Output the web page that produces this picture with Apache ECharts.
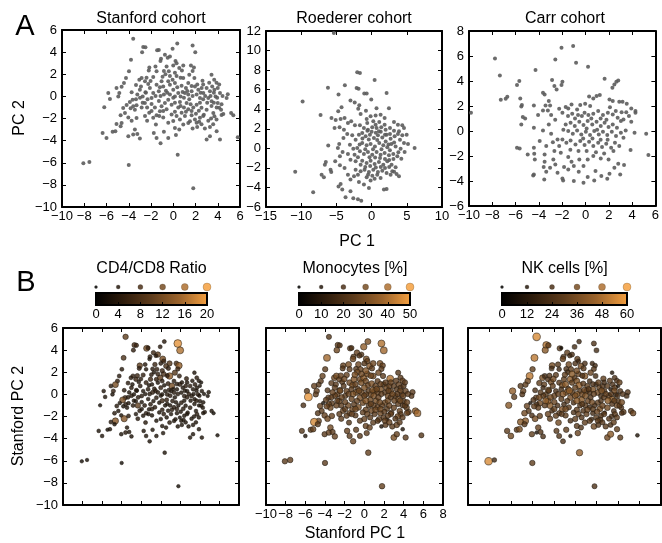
<!DOCTYPE html>
<html>
<head>
<meta charset="utf-8">
<script src="https://cdn.jsdelivr.net/npm/echarts@6/dist/echarts.min.js"></script>
<style>
html, body { margin: 0; padding: 0; background: #fff; }
#chart { width: 662px; height: 543px; }
</style>
</head>
<body>
<div id="chart"></div>
<script>
// Stanford cohort: [PC1, PC2, CD4/CD8 ratio, monocytes %, NK cells %]
var stanford = [
  [-3.6, 5.2, 10, 22, 55], [0.36, 4.77, 4, 30, 20], [1.74, 4.6, 19, 40, 25], [1.98, 3.98, 16, 38, 22],
  [-2.7, 4.46, 8, 25, 48], [-2.5, 4.43, 6, 22, 30], [-2.8, 4.0, 5, 28, 40], [-1.45, 4.16, 12, 24, 28],
  [-1.3, 4.2, 5, 20, 6], [-0.06, 4.3, 4, 35, 22], [-0.75, 3.77, 6, 26, 30], [-0.3, 3.6, 10, 22, 25],
  [-0.5, 3.5, 4, 20, 20], [-3.8, 3.3, 8, 38, 50], [-1.1, 3.4, 5, 24, 26], [-1.15, 3.2, 3, 28, 32],
  [0.2, 3.2, 12, 30, 30], [0.3, 3.0, 6, 26, 18], [0, 2.8, 4, 22, 24], [-3.98, 2.27, 4, 24, 30],
  [-2.15, 2.6, 10, 26, 36], [-2.2, 2.35, 5, 22, 22], [-1.6, 2.7, 4, 30, 28], [-1.5, 2.27, 3, 24, 20],
  [-0.6, 2.7, 6, 28, 34], [-0.84, 2.3, 4, 22, 24], [-0.4, 2.27, 5, 26, 30], [-0.7, 2.0, 3, 30, 22],
  [0.54, 2.56, 8, 32, 36], [0.78, 2.35, 5, 24, 28], [0.9, 2.8, 9, 28, 24], [1.59, 2.8, 7, 30, 18],
  [1.86, 2.6, 14, 26, 20], [1.74, 2.3, 6, 24, 26], [1.44, 1.96, 9, 28, 32], [0.9, 1.66, 14, 30, 40],
  [1.9, 1.66, 5, 24, 22], [3.44, 1.96, 3, 22, 10], [3.68, 1.5, 4, 24, 24], [2.63, 1.42, 5, 40, 30],
  [-4.25, 1.66, 4, 26, 50], [-4.43, 1.2, 5, 24, 34], [-4.64, 0.88, 12, 22, 30], [-5.1, 0.76, 4, 26, 28],
  [-5.84, 0.3, 3, 24, 42], [-5.69, -0.23, 3, 48, 30], [-6.2, -0.99, 2, 20, 40], [-4.85, 0.3, 5, 26, 32],
  [-4.94, 0, 3, 24, 26], [-3.74, 0.37, 4, 22, 24], [-3.65, -0.3, 6, 26, 30], [-3.05, 1.5, 4, 28, 36],
  [-2.84, 1.66, 5, 30, 22], [-2.9, 0.9, 3, 24, 30], [-2.54, 1.36, 6, 26, 26], [-2.25, 1.12, 3, 22, 34],
  [-3.0, 0.6, 4, 24, 20], [-2.75, 0, 3, 26, 28], [-2.5, 0.37, 5, 28, 40], [-2.1, 0.76, 4, 22, 30],
  [-1.8, 0.3, 3, 26, 24], [-1.95, -0.14, 4, 24, 32], [-1.5, 1.06, 5, 28, 26], [-1.2, 0.82, 3, 30, 36],
  [-1.3, 0.46, 4, 24, 22], [-1.05, 1.36, 6, 32, 30], [-0.9, 0.9, 3, 26, 40], [-0.66, 0.5, 4, 24, 28],
  [-0.45, 1.36, 5, 28, 42], [-0.3, 1.06, 3, 30, 30], [-0.06, 1.5, 10, 34, 26], [0.15, 1.2, 4, 28, 36],
  [0.36, 0.82, 3, 26, 44], [0, 0.6, 5, 30, 30], [0.45, 0.3, 3, 24, 26], [0.66, 0, 4, 28, 34],
  [0.15, 0, 3, 26, 40], [0.75, 0.97, 5, 30, 28], [1.14, 0.76, 12, 26, 30], [1.35, 1.2, 4, 24, 22],
  [1.05, 0.3, 3, 28, 32], [1.35, 0.16, 4, 26, 24], [1.65, 0.46, 3, 30, 36], [1.95, 0.9, 5, 24, 20],
  [2.25, 0.6, 3, 28, 30], [2.55, 0.76, 4, 26, 26], [2.1, 0.16, 3, 24, 34], [2.4, -0.14, 4, 28, 22],
  [2.7, 0.3, 3, 26, 30], [3.0, 0.76, 4, 24, 28], [3.3, 0.46, 3, 22, 10], [3.5, 0.9, 4, 26, 24],
  [3.7, 0.6, 3, 24, 30], [4.0, 0.76, 2, 22, 8], [4.2, 0.3, 3, 26, 26], [3.15, -0.14, 4, 24, 32],
  [3.45, -0.44, 3, 28, 40], [3.8, 0, 4, 26, 22], [4.0, -0.6, 3, 24, 28], [3.9, -1.0, 2, 22, 34],
  [4.3, -1.2, 3, 26, 24], [4.9, 0.2, 3, 24, 26], [4.8, -0.14, 2, 22, 22], [4.5, -1.6, 3, 26, 30],
  [5.2, -1.5, 3, 34, 28], [5.4, -1.7, 2, 38, 32], [5.8, -3.7, 2, 22, 10], [3.6, -1.5, 3, 26, 24],
  [3.7, -1.8, 4, 24, 30], [3.4, -2.0, 3, 28, 22], [3.0, -1.2, 4, 26, 34], [2.75, -1.65, 3, 24, 8],
  [3.15, -2.2, 3, 22, 26], [2.1, -0.75, 4, 28, 30], [1.8, -1.0, 3, 26, 24], [2.3, -1.3, 4, 24, 36],
  [1.65, -1.7, 3, 28, 22], [1.95, -2.1, 2, 24, 28], [1.5, -2.25, 3, 26, 20], [1.2, -0.6, 4, 30, 32],
  [0.96, -1.0, 3, 26, 28], [0.6, -0.5, 5, 28, 40], [0.45, -1.0, 3, 24, 26], [0.15, -1.4, 4, 26, 30],
  [-0.15, -0.75, 3, 28, 24], [-0.45, -0.3, 4, 30, 34], [-0.75, -0.6, 3, 26, 28], [-1.05, -0.9, 4, 24, 22],
  [-1.2, -1.35, 3, 28, 38], [-1.5, -1.7, 4, 26, 26], [-0.9, -1.9, 3, 24, 30], [-1.65, -1.0, 4, 28, 24],
  [-1.95, -0.7, 3, 26, 32], [-2.35, -1.0, 10, 24, 40], [-2.55, -0.6, 3, 28, 42], [-2.84, -1.0, 4, 26, 28],
  [-3.3, -0.8, 3, 24, 34], [-3.6, -0.9, 4, 26, 22], [-3.45, -1.2, 3, 28, 30], [-3.9, -0.5, 12, 24, 26],
  [-4.5, -1.05, 4, 26, 32], [-4.34, -1.5, 3, 24, 28], [-4.73, -1.7, 4, 22, 34], [-4.04, -1.9, 3, 26, 24],
  [-3.74, -2.2, 13, 28, 36], [-4.64, -2.4, 13, 26, 40], [-5.1, -2.5, 4, 45, 40], [-4.73, -2.7, 3, 24, 28],
  [-3.3, -1.95, 4, 26, 30], [-6.35, -3.3, 3, 22, 30], [-6.0, -3.76, 3, 8, 34], [-5.45, -3.2, 2, 24, 28],
  [-5.2, -3.15, 3, 26, 36], [-4.04, -3.6, 3, 24, 30], [-3.6, -3.45, 4, 26, 8], [-3.45, -3.0, 3, 28, 32],
  [-3.23, -3.4, 3, 24, 26], [-3.0, -3.8, 3, 26, 24], [-2.35, -2.2, 4, 24, 30], [-1.75, -3.3, 3, 26, 28],
  [-1.5, -3.76, 3, 24, 26], [-1.56, -2.55, 4, 22, 34], [-1.14, -4.24, 3, 26, 24], [-0.84, -3.2, 3, 24, 30],
  [-0.45, -3.76, 3, 22, 8], [0.15, -2.86, 3, 26, 28], [0.24, -3.5, 3, 24, 32], [0.54, -3.0, 3, 26, 26],
  [0.9, -2.55, 4, 24, 30], [1.35, -2.4, 3, 22, 28], [1.74, -2.9, 3, 8, 34], [2.15, -2.76, 3, 24, 26],
  [2.33, -2.3, 3, 6, 30], [2.84, -2.9, 3, 24, 28], [3.3, -2.76, 3, 26, 24], [3.0, -3.9, 3, 30, 34],
  [3.3, -3.6, 3, 26, 40], [4.2, -3.9, 3, 24, 28], [3.9, -3.15, 3, 8, 30], [0.4, -5.27, 3, 26, 42],
  [-8.08, -6.05, 2, 24, 55], [-7.54, -5.93, 2, 26, 20], [-4.0, -6.2, 2, 24, 30], [1.8, -8.3, 2, 26, 25],
  [-0.3, 0.18, 4, 28, 30], [0, -0.12, 3, 26, 36], [-0.6, -1.17, 4, 30, 28], [-0.15, -1.63, 3, 24, 24],
  [0.3, -1.78, 4, 26, 32], [0.75, -1.48, 3, 28, 26], [1.05, -1.78, 3, 24, 30], [1.35, -1.17, 4, 26, 22],
  [1.56, -0.72, 3, 28, 34], [0.15, -0.57, 6, 32, 40], [0.66, -0.87, 3, 26, 28], [0.96, -0.12, 4, 30, 36],
  [1.44, -0.27, 3, 26, 26], [1.74, 0.03, 4, 24, 30], [2.4, -0.57, 3, 28, 24], [2.54, -1.02, 3, 26, 32],
  [2.69, -0.27, 4, 24, 28], [3.05, -0.57, 3, 26, 40], [3.44, -0.87, 3, 24, 26], [3.65, -0.57, 4, 28, 30],
  [3.95, -0.12, 3, 26, 22], [4.13, -1.02, 3, 24, 28], [4.34, -0.72, 3, 26, 34], [4.43, 0.03, 2, 24, 26],
  [2.69, -1.78, 3, 26, 30], [2.4, -1.93, 3, 24, 24], [2.1, -2.38, 3, 26, 28], [1.14, -1.39, 4, 28, 32],
  [0.6, -2.08, 3, 24, 26], [0, -2.23, 3, 26, 30], [-0.45, -2.38, 3, 24, 24], [-0.9, -1.33, 4, 28, 34],
  [-1.26, -1.78, 3, 26, 28], [-1.8, -1.93, 3, 24, 30], [-2.16, -1.48, 4, 26, 24], [-2.54, -1.78, 3, 24, 32],
  [-0.84, 0.18, 5, 30, 36], [-0.54, 0.33, 4, 28, 42], [-1.59, 0.03, 3, 26, 30], [-1.14, 0.03, 4, 30, 38],
  [-1.29, -0.42, 3, 26, 28], [-1.95, -1.33, 3, 24, 30], [-2.31, -0.27, 4, 26, 34], [-2.46, 0.33, 3, 28, 26],
  [-2.99, -0.12, 4, 26, 30], [-2.75, -0.57, 3, 24, 40], [0.84, 0.39, 4, 30, 32], [1.26, 0.48, 3, 28, 28],
  [1.65, 0.93, 4, 26, 24], [2.16, 1.08, 3, 24, 30], [2.69, 1.08, 3, 26, 22], [3.23, 1.23, 3, 24, 28],
  [3.89, 1.23, 3, 26, 24], [4.13, 1.08, 2, 24, 30], [3.65, 0.33, 3, 26, 34], [3.35, 0.03, 3, 24, 26],
  [2.87, 0.03, 4, 28, 30], [2.46, 0.33, 3, 26, 36], [0.3, 1.84, 8, 30, 32], [0.66, 1.69, 5, 28, 26],
  [0.15, 2.14, 6, 32, 34], [-0.3, 1.84, 5, 28, 40], [-0.96, 1.78, 4, 30, 30], [-1.8, 1.75, 5, 26, 28],
  [-2.04, 1.39, 4, 28, 34], [-2.4, 1.69, 6, 26, 26], [-3.35, 1.02, 4, 24, 30], [-3.23, 0.18, 3, 26, 28],
  [-3.35, -0.27, 4, 24, 34], [-3.83, -1.08, 3, 26, 30], [-4.19, -0.78, 3, 5, 6], [3.89, -2.08, 3, 24, 28],
  [4.34, -1.69, 3, 26, 24], [3.59, -2.53, 3, 24, 30], [2.54, -2.53, 3, 26, 26], [2.04, -1.57, 3, 24, 32],
  [1.65, -1.33, 4, 28, 28]
];

// Roederer cohort: [PC1, PC2]
var roederer = [
  [-5.36, 11.8], [-2.04, 7.77], [-1.66, 7.7], [0.43, 6.98], [-3.8, 6.44], [-6.2, 6.2], [-2.13, 6.17],
  [-1.85, 6.1], [-9.8, 4.8], [-4.7, 5.5], [-1.04, 5.6], [-0.7, 5.6], [2.13, 5.66], [-7.25, 3.4],
  [-3.0, 4.9], [-2.4, 4.7], [-1.75, 4.4], [-1.9, 4.05], [-4.27, 4.2], [-4.74, 3.8], [-5.7, 3.1],
  [-5.1, 2.9], [-4.4, 3.0], [-3.84, 3.1], [-0.05, 5.0], [0.7, 4.1], [2.46, 4.1], [-0.8, 3.85],
  [-1.56, 3.5], [-0.7, 3.0], [-0.14, 3.27], [0.57, 3.37], [1.28, 3.44], [1.85, 3.1], [1.09, 2.7],
  [0.24, 2.76], [-3.36, 2.6], [-2.9, 2.76], [-2.37, 2.35], [-1.66, 2.35], [-5.26, 2.08], [-4.55, 2.15],
  [-3.93, 1.9], [3.18, 2.7], [3.74, 2.42], [4.36, 2.35], [3.89, 1.74], [4.6, 2.08], [-6.16, 0.3],
  [-10.85, -2.4], [-8.3, -4.5], [-7.1, -2.7], [-6.78, -2.96], [-6.5, -1.4], [-6.64, -1.67], [-5.83, -2.18],
  [-5.73, -2.42], [-4.6, 0.44], [-4.79, 0.03], [-4.12, -0.37], [-4.5, -0.82], [-5.17, -1.33], [-4.5, -1.74],
  [-3.84, -2.0], [-3.36, -2.7], [-4.4, -3.64], [-4.7, -3.9], [-4.17, -4.2], [-3.7, -5.0], [-3.0, -4.4],
  [-2.6, -5.1], [-1.94, -5.2], [-1.47, -5.35], [-4.0, 1.06], [-3.46, 1.47], [-2.75, 1.33], [-2.27, 0.89],
  [-1.8, 1.4], [-1.33, 1.57], [-3.08, 0.37], [-2.6, -0.03], [-3.36, -0.58], [-3.0, -1.16], [-2.27, -1.33],
  [-1.56, -1.67], [-2.27, -2.18], [-3.0, -3.2], [-2.5, -2.86], [-1.8, -3.44], [-1.09, -3.71], [-0.38, -4.05],
  [-0.7, -2.96], [-0.14, -3.3], [0.43, -3.1], [0.8, -2.7], [1.28, -3.03], [1.75, -4.2], [2.13, -4.16],
  [3.89, -2.86], [3.55, -2.62], [2.94, -2.35], [-1.09, 2.08], [-0.52, 1.91], [0.09, 2.15], [0.71, 2.08],
  [1.37, 2.15], [1.99, 1.91], [2.61, 2.08], [3.18, 1.81], [3.74, 1.47], [4.36, 1.33], [4.98, 1.4],
  [-0.85, 1.23], [-0.24, 1.4], [0.33, 1.06], [0.9, 1.33], [1.52, 1.12], [2.13, 1.4], [2.7, 0.99],
  [3.27, 1.23], [4.03, 0.89], [4.6, 0.55], [5.17, 0.44], [6.11, 0.03], [-1.33, 0.55], [-0.71, 0.31],
  [-0.14, 0.44], [0.47, 0.2], [1.09, 0.55], [1.66, 0.31], [2.23, 0.1], [2.8, 0.44], [3.41, 0.2],
  [4.12, -0.03], [4.69, -0.37], [-1.66, -0.31], [-1.09, -0.58], [-0.52, -0.37], [0.09, -0.65], [0.71, -0.37],
  [1.28, -0.65], [1.85, -0.48], [2.46, -0.72], [3.08, -0.58], [3.65, -0.82], [4.22, -1.06], [-1.33, -1.26],
  [-0.71, -1.5], [-0.14, -1.26], [0.43, -1.6], [1.04, -1.4], [1.66, -1.67], [2.23, -1.33], [2.84, -1.67],
  [3.41, -1.94], [-1.0, -2.18], [-0.38, -2.42], [0.24, -2.18], [0.9, -2.42], [1.52, -2.28], [2.13, -2.52],
  [2.7, -2.69], [-1.94, -2.69], [-1.56, -2.35], [-2.04, 0.03], [-2.42, -0.65], [-1.94, -0.92], [-0.62, 2.59],
  [0.57, 2.42], [1.85, 2.42], [1.04, 1.74], [2.61, 1.47],
  [-0.4, 0.9], [0.2, -0.1], [0.8, 0.85], [1.4, -0.1], [2.0, 0.7], [2.6, -0.2], [3.2, 0.6], [3.8, -0.4],
  [-0.9, -0.1], [-0.3, -0.9], [0.5, -0.95], [1.2, -1.0], [1.9, -1.1], [2.5, -1.2], [3.1, -1.1], [0.0, 1.7],
  [0.6, 1.6], [1.3, 1.7], [1.9, 1.4], [2.4, 0.4], [-0.6, 1.8], [-1.3, 1.0], [-1.7, 0.4], [-0.9, -1.9],
  [-0.2, -1.8], [0.6, -1.95], [1.3, -1.9], [1.9, -2.0], [2.5, -1.9], [3.2, -2.4], [0.1, -2.8], [-0.5, -2.7]
];

// Carr cohort: [PC1, PC2]
var carr = [
  [-1.06, 6.8], [-2.06, 6.67], [-7.77, 5.81], [-2.59, 5.73], [-0.81, 5.47], [0.22, 5.15], [-7.35, 4.45],
  [-4.29, 4.88], [1.64, 4.19], [2.81, 4.05], [2.65, 3.95], [2.48, 3.73], [2.31, 3.47], [-5.68, 4.0],
  [-5.88, 3.68], [-2.87, 4.08], [-2.67, 3.6], [-1.98, 3.95], [-2.06, 3.68], [-2.48, 3.33], [-7.27, 2.5],
  [-6.85, 2.59], [-6.71, 2.75], [-5.6, 2.61], [-5.46, 2.08], [-5.51, 1.97], [-4.43, 2.05], [-4.07, 1.28],
  [-5.38, 1.12], [-5.18, 1.01], [-5.51, 0.53], [-4.43, 0.27], [-9.83, 1.47], [-3.65, 3.07], [-3.51, 2.93],
  [-3.15, 2.4], [-3.04, 2.05], [-3.43, 2.05], [-3.23, 1.65], [-2.26, 1.79], [-1.7, 1.92], [-1.48, 1.81],
  [-1.2, 2.13], [-0.72, 1.73], [-0.45, 2.08], [-0.03, 2.19], [0.31, 2.77], [0.67, 2.61], [0.95, 2.8],
  [1.23, 2.88], [2.06, 2.53], [2.34, 2.4], [2.9, 2.35], [3.18, 2.35], [3.54, 2.19], [3.93, 1.81],
  [4.29, 1.6], [4.29, 1.47], [3.73, 1.2], [3.93, 0.75], [3.26, 0.93], [4.21, -0.13], [5.21, -0.21],
  [5.4, -1.92], [3.87, -1.52], [3.26, -0.53], [3.45, 0.05], [-3.65, 1.65], [-2.95, 1.28], [-1.98, 1.47],
  [-1.5, 1.2], [-1.14, 1.39], [-0.64, 1.28], [-0.31, 1.2], [-0.08, 1.47], [0.25, 1.28], [0.67, 1.39],
  [1.09, 1.6], [1.5, 1.28], [1.92, 1.47], [2.34, 1.33], [2.76, 1.07], [3.04, 0.8], [-1.7, 0.53],
  [-1.28, 0.67], [-0.92, 0.4], [-0.53, 0.75], [-0.17, 0.48], [0.19, 0.8], [0.58, 0.53], [0.95, 0.75],
  [1.31, 0.4], [1.64, 0.67], [1.98, 0.32], [2.34, 0.53], [2.7, 0.27], [-1.48, 0], [-1.09, -0.21],
  [-0.72, 0.05], [-0.36, -0.27], [0.03, -0.05], [0.39, -0.32], [0.75, 0], [1.14, -0.27], [1.5, -0.05],
  [1.87, -0.32], [2.26, -0.05], [2.62, -0.4], [3.04, -0.13], [-1.98, -0.67], [-1.64, -0.93], [-1.28, -0.75],
  [-0.86, -1.07], [-0.45, -0.8], [-0.08, -1.12], [0.31, -0.85], [0.67, -1.2], [1.09, -0.93], [1.42, -1.28],
  [1.78, -1.01], [2.2, -1.33], [2.53, -0.93], [2.9, -1.2], [-3.15, 0.53], [-2.95, -0.21], [-3.65, 0.05],
  [-3.93, -0.8], [-3.37, -1.2], [-3.51, -1.87], [-4.43, -1.33], [-4.96, -1.87], [-5.88, -1.33], [-5.65, -1.39],
  [-4.4, -1.81], [-4.35, -2.27], [-2.4, -0.67], [-2.26, -1.2], [-2.67, -1.6], [-2.12, -1.73], [-3.51, -2.45],
  [-3.59, -2.88], [-3.37, -3.25], [-3.54, -3.87], [-4.43, -3.47], [-4.49, -3.55], [-2.59, -2.67], [-2.4, -3.33],
  [-1.98, -3.79], [-1.92, -3.95], [-1.48, -2.08], [-1.2, -2.45], [-1.0, -2.8], [-0.58, -3.25], [-1.0, -4.0],
  [-0.17, -4.13], [0.19, -3.68], [0.75, -3.95], [0.86, -3.2], [1.36, -3.6], [1.87, -3.81], [2.06, -3.41],
  [2.48, -2.93], [2.81, -2.61], [3.31, -2.72], [2.98, -3.47], [1.98, -2.27], [1.31, -2.19], [0.67, -2.0],
  [0.19, -2.27], [-0.17, -2.8], [-0.53, -2.27], [-1.84, -2.88], [-1.48, -3.07], [-2.76, -2.27], [-3.04, -2.93],
  [0.1, 0.2], [0.5, 1.0], [1.0, 0.1], [1.3, 1.0], [1.8, 0.9], [2.1, 1.9], [2.6, 1.6], [3.1, 1.5],
  [3.5, 1.5], [0.4, 2.0], [-0.9, 1.0], [-0.2, -0.6], [0.6, -0.6], [1.3, -0.7], [1.9, -0.7], [2.4, -1.6],
  [-1.3, -1.5], [-0.6, -1.6], [0.1, -1.6], [0.9, -1.7], [1.6, -1.8], [-2.6, 0.9], [-1.9, 0.1], [-2.8, -0.9]
];

// colour bar scales and their size-legend values
var ratioLegend = [0, 4, 8, 12, 16, 20];
var monoLegend = [0, 10, 20, 30, 40, 50];
var nkLegend = [0, 12, 24, 36, 48, 60];

var FONT = '"Liberation Sans", Arial, Helvetica, sans-serif';
var CMAP = ['#000000', '#2e1c0c', '#5e3c1c', '#9c642c', '#f5a040'];

function minus(v) { return String(v).replace('-', '\u2212'); }

var chart = echarts.init(document.getElementById('chart'), null, { renderer: 'canvas' });

var grids = [], xAxes = [], yAxes = [], series = [], visualMaps = [];

function frameAxis(gi, pos, r, showLabel, isX) {
  return {
    type: 'value', gridIndex: gi, position: pos, min: r[0], max: r[1], interval: r[2],
    axisLine: { show: true, onZero: false, lineStyle: { color: '#000', width: 2 } },
    axisTick: { show: true, inside: true, length: 4, lineStyle: { color: '#000', width: 1 } },
    axisLabel: { show: showLabel, margin: isX ? 3 : 5, color: '#000', fontSize: 13, fontFamily: FONT, formatter: minus },
    splitLine: { show: false }
  };
}

var panels = [
  { box: [62, 30, 178, 177], x: [-10, 6, 2], y: [-10, 6, 2], xl: true, yl: true },
  { box: [266, 31, 176, 176], x: [-15, 10, 5], y: [-6, 12, 2], xl: true, yl: true },
  { box: [469, 31, 192, 175], x: [-10, 6, 2], y: [-6, 8, 2], xl: true, yl: true },
  { box: [63, 328, 176, 177], x: [-10, 8, 2], y: [-10, 6, 2], xl: false, yl: true },
  { box: [266, 328, 177, 177], x: [-10, 8, 2], y: [-10, 6, 2], xl: true, yl: false },
  { box: [468, 328, 193, 177], x: [-10, 8, 2], y: [-10, 6, 2], xl: false, yl: false }
];

panels.forEach(function (p, i) {
  grids.push({ left: p.box[0], top: p.box[1], width: p.box[2], height: p.box[3] });
  xAxes.push(frameAxis(i, 'bottom', p.x, p.xl, true));
  xAxes.push(frameAxis(i, 'top', p.x, false, true));
  yAxes.push(frameAxis(i, 'left', p.y, p.yl, false));
  yAxes.push(frameAxis(i, 'right', p.y, false, false));
});

// top row: plain grey points
[stanford.map(function (d) { return [d[0], d[1]]; }), roederer, carr].forEach(function (data, i) {
  series.push({
    type: 'scatter', xAxisIndex: 2 * i, yAxisIndex: 2 * i, data: data,
    symbolSize: 4, itemStyle: { color: '#5c5c5c', opacity: 0.9 }, silent: true
  });
});

// bottom row: Stanford points coloured by a measurement, plus colour bars
var bars = [
  { col: 2, legend: ratioLegend, box: [96, 111] },
  { col: 3, legend: monoLegend, box: [299, 111] },
  { col: 4, legend: nkLegend, box: [502, 125] }
];

var dotStyle = { opacity: 0.8, borderColor: 'rgba(35,28,20,0.7)', borderWidth: 1 };

bars.forEach(function (b, k) {
  var maxV = b.legend[b.legend.length - 1];
  var step = b.legend[1] - b.legend[0];
  var pi = 3 + k;
  var plotIdx = series.length;
  series.push({
    type: 'scatter', xAxisIndex: 2 * pi, yAxisIndex: 2 * pi, silent: true,
    data: stanford.map(function (d) { return [d[0], d[1], d[b.col]]; }),
    itemStyle: dotStyle
  });

  // colour bar grid
  var gBar = grids.length;
  grids.push({ left: b.box[0], top: 293, width: b.box[1], height: 12 });
  xAxes.push({
    type: 'value', gridIndex: gBar, position: 'bottom', min: 0, max: maxV, interval: step, z: 5,
    axisLine: { show: false },
    axisTick: { show: true, inside: true, length: 3, lineStyle: { color: '#000', width: 1 } },
    axisLabel: { margin: 3, color: '#000', fontSize: 13, fontFamily: FONT },
    splitLine: { show: false }
  });
  yAxes.push({ type: 'value', gridIndex: gBar, min: 0, max: 1, show: false });
  series.push({
    type: 'custom', xAxisIndex: xAxes.length - 1, yAxisIndex: yAxes.length - 1, silent: true, z: 1,
    data: [[0, maxV]],
    renderItem: function (params, api) {
      var p0 = api.coord([api.value(0), 0]);
      var p1 = api.coord([api.value(1), 1]);
      var stops = CMAP.map(function (c, j) { return { offset: j / (CMAP.length - 1), color: c }; });
      return {
        type: 'rect',
        shape: { x: p0[0], y: p1[1], width: p1[0] - p0[0], height: p0[1] - p1[1] },
        style: { fill: new echarts.graphic.LinearGradient(0, 0, 1, 0, stops), stroke: '#000', lineWidth: 2 }
      };
    }
  });

  // size legend dots above the bar
  var gDots = grids.length;
  grids.push({ left: b.box[0], top: 281, width: b.box[1], height: 12 });
  xAxes.push({ type: 'value', gridIndex: gDots, min: 0, max: maxV, show: false });
  yAxes.push({ type: 'value', gridIndex: gDots, min: 0, max: 1, show: false });
  var dotIdx = series.length;
  series.push({
    type: 'scatter', xAxisIndex: xAxes.length - 1, yAxisIndex: yAxes.length - 1, silent: true,
    data: b.legend.map(function (v) { return [v, 0.5, v]; }),
    itemStyle: { opacity: 0.85, borderColor: 'rgba(35,28,20,0.4)', borderWidth: 0.6 }
  });

  visualMaps.push({
    type: 'continuous', show: false, min: 0, max: maxV, dimension: 2,
    seriesIndex: [plotIdx, dotIdx],
    inRange: { color: CMAP, symbolSize: [3, 8] }
  });
});

function label(text, x, y, size, rot) {
  return {
    type: 'text', x: x, y: y, rotation: rot || 0, silent: true,
    style: {
      text: text, fill: '#000', fontSize: size, fontFamily: FONT,
      align: 'center', verticalAlign: 'middle', textAlign: 'center', textVerticalAlign: 'middle'
    }
  };
}

var option = {
  animation: false,
  grid: grids,
  xAxis: xAxes,
  yAxis: yAxes,
  visualMap: visualMaps,
  series: series,
  graphic: [
    label('A', 25, 27, 29),
    label('B', 26, 283, 29),
    label('Stanford cohort', 151, 19, 16),
    label('Roederer cohort', 354, 19, 16),
    label('Carr cohort', 565, 19, 16),
    label('PC 2', 20, 118, 16, Math.PI / 2),
    label('PC 1', 357, 242, 16),
    label('CD4/CD8 Ratio', 151.5, 269, 16),
    label('Monocytes [%]', 355, 269, 16),
    label('NK cells [%]', 564.5, 269, 16),
    label('Stanford PC 2', 19, 416, 16, Math.PI / 2),
    label('Stanford PC 1', 355, 534, 16)
  ]
};

chart.setOption(option);
window.addEventListener('resize', chart.resize);
</script>
</body>
</html>
